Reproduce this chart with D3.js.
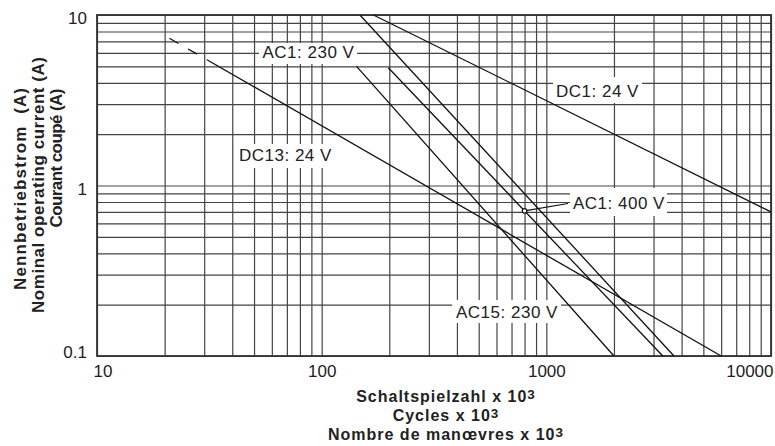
<!DOCTYPE html>
<html><head><meta charset="utf-8">
<script src="https://cdn.jsdelivr.net/npm/d3@7"></script>
<style>
body{margin:0;background:#fff}
svg{display:block}
text{font-family:"Liberation Sans",Arial,Helvetica,sans-serif}
</style>
</head><body>
<svg id="c" width="775" height="446"></svg>
<script>
// ---- data ----
const xTickValues = [10, 100, 1000, 10000];
const xTickLabels = ["10", "100", "1000", "10000"];
const yTickValues = [0.1, 1, 10];
const yTickLabels = ["0.1", "1", "10"];
const seriesNames = ["DC1: 24 V", "AC1: 230 V", "AC1: 400 V", "AC15: 230 V", "DC13: 24 V"];
const dc1 = [[170, 10], [10000, 0.70]];
const ac1_230 = [[148, 10], [3700, 0.1]];
const ac1_400 = [[198, 4.9], [3300, 0.1]];
const ac15_230 = [[143, 5], [2000, 0.1]];
const dc13 = [[31, 5.45], [6000, 0.1]];
const dc13Dashed = [[21, 7.3], [31, 5.45]];
const ac1_400Marker = [800, 0.71];
const yTitle = ["Nennbetriebstrom  (A)", "Nominal operating current (A)", "Courant coupé (A)"];
const xTitle = ["Schaltspielzahl x 10", "Cycles x 10", "Nombre de manœvres x 10"];
const xTitleSup = "3";

// ---- layout ----
const L = 97, R = 771, T = 15, B = 356;
const svg = d3.select("#c");
const x = d3.scaleLog().domain([10, 10000]).range([L, R]);
const y = d3.scaleLog().domain([0.1, 10]).range([B, T]);

const xGrid = [];
[10, 100, 1000].forEach(d => { for (let k = 1; k <= 9; k++) xGrid.push(d * k); });
xGrid.push(10000);
const yGrid = [];
[0.1, 1].forEach(d => { for (let k = 1; k <= 9; k++) yGrid.push(+(d * k).toFixed(2)); });
yGrid.push(10);

const gridColor = "#444";
svg.append("g").attr("transform", `translate(0,${B})`)
  .call(d3.axisBottom(x).tickValues(xGrid).tickSize(-(B - T)).tickFormat(""))
  .call(g => g.select(".domain").remove())
  .call(g => g.selectAll("line").attr("stroke", gridColor).attr("stroke-width", 1.2));
svg.append("g").attr("transform", `translate(${L},0)`)
  .call(d3.axisLeft(y).tickValues(yGrid).tickSize(-(R - L)).tickFormat(""))
  .call(g => g.select(".domain").remove())
  .call(g => g.selectAll("line").attr("stroke", gridColor).attr("stroke-width", 1.2));

// frame
svg.append("rect").attr("x", L).attr("y", T).attr("width", R - L).attr("height", B - T)
  .attr("fill", "none").attr("stroke", "#333").attr("stroke-width", 1.8);

// tick labels
const xa = svg.append("g").attr("transform", `translate(0,${B})`)
  .call(d3.axisBottom(x).tickValues(xTickValues).tickFormat((d, i) => xTickLabels[i]).tickSize(0).tickPadding(9));
xa.select(".domain").remove();
xa.selectAll("text").attr("font-size", 17).attr("fill", "#222").attr("font-family", null)
  .each(function(d, i) {
    const t = d3.select(this);
    if (i === 0) t.attr("text-anchor", "start").attr("x", -4);
    if (i === xTickValues.length - 1) t.attr("text-anchor", "end").attr("x", 2);
  });

const ya = svg.append("g").attr("transform", `translate(${L},0)`)
  .call(d3.axisLeft(y).tickValues(yTickValues).tickFormat((d, i) => yTickLabels[i]).tickSize(0).tickPadding(10));
ya.select(".domain").remove();
ya.selectAll("text").attr("font-size", 17).attr("fill", "#222").attr("font-family", null)
  .attr("dy", null).attr("dominant-baseline", "central")
  .attr("y", d => { const p = y(d) + 3; return Math.min(Math.max(p, T + 2), B - 4) - y(d); });

// label boxes (white, interrupting the grid)
const boxes = [
  [259, 43, 98, 21], [236, 144, 103, 24], [553, 77, 89, 26], [570, 188, 97, 28], [452, 300, 109, 23]
];
svg.append("g").selectAll("rect").data(boxes).join("rect")
  .attr("x", d => d[0]).attr("y", d => d[1]).attr("width", d => d[2]).attr("height", d => d[3])
  .attr("fill", "#fff");

// curves
const line = d3.line().x(d => x(d[0])).y(d => y(d[1]));
const curveG = svg.append("g").attr("fill", "none").attr("stroke", "#111").attr("stroke-width", 1.3);
[dc1, ac1_230, ac1_400, ac15_230, dc13].forEach(s => curveG.append("path").attr("d", line(s)));
curveG.append("path").attr("d", line(dc13Dashed)).attr("stroke-dasharray", "10.5,11");

// marker + leader for AC1: 400 V
const mx = x(ac1_400Marker[0]), my = y(ac1_400Marker[1]);
svg.append("line").attr("x1", mx).attr("y1", my).attr("x2", 568).attr("y2", 203.5)
  .attr("stroke", "#111").attr("stroke-width", 1.1);
svg.append("circle").attr("cx", mx).attr("cy", my).attr("r", 2.3)
  .attr("fill", "#fff").attr("stroke", "#111").attr("stroke-width", 1.2);

// series labels
const labelPos = { "AC1: 230 V": [262.5, 57.5], "DC13: 24 V": [239, 161], "DC1: 24 V": [556, 96.5],
  "AC1: 400 V": [573, 209], "AC15: 230 V": [456, 318] };
svg.append("g").selectAll("text").data(seriesNames).join("text")
  .attr("x", d => labelPos[d][0]).attr("y", d => labelPos[d][1])
  .attr("font-size", 17).attr("letter-spacing", 0.5).attr("fill", "#222").text(d => d);

// y title
const yPos = [[26, 189, 202], [44, 185, 256], [61.5, 158, 139]];
yTitle.forEach((s, i) => {
  svg.append("text").attr("transform", `translate(${yPos[i][0]},${yPos[i][1]}) rotate(-90)`)
    .attr("text-anchor", "middle").attr("font-size", 17).attr("font-weight", "bold").attr("fill", "#222")
    .attr("textLength", yPos[i][2]).style("white-space", "pre").text(s);
});

// x title
const xBase = [401.5, 420.5, 440];
xTitle.forEach((s, i) => {
  const t = svg.append("text").attr("x", 446).attr("y", xBase[i]).attr("text-anchor", "middle")
    .attr("font-size", 16).attr("font-weight", "bold").attr("letter-spacing", 1.0).attr("fill", "#222");
  t.append("tspan").text(s);
  t.append("tspan").attr("dy", -3).attr("font-size", 13.5).text(xTitleSup);
});
</script>
</body></html>
